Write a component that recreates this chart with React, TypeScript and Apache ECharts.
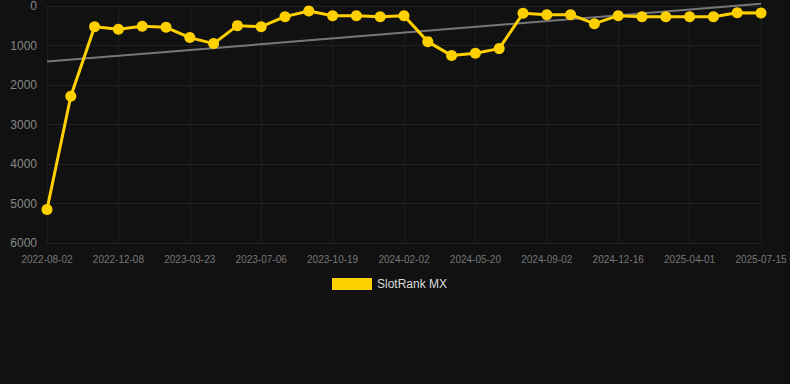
import React, { useEffect, useRef } from "react";
import * as echarts from "echarts";

const dates = [
  "2022-08-02", "2022-09-14", "2022-10-27", "2022-12-08", "2023-01-12", "2023-02-16",
  "2023-03-23", "2023-04-27", "2023-06-01", "2023-07-06", "2023-08-10", "2023-09-14",
  "2023-10-19", "2023-11-23", "2023-12-28", "2024-02-02", "2024-03-08", "2024-04-14",
  "2024-05-20", "2024-06-24", "2024-07-29", "2024-09-02", "2024-10-07", "2024-11-11",
  "2024-12-16", "2025-01-20", "2025-02-24", "2025-04-01", "2025-05-06", "2025-06-10",
  "2025-07-15",
];

const ranks = [
  5150, 2284, 523, 590, 515, 540, 800, 952, 497, 523, 270, 126,
  245, 245, 270, 245, 902, 1256, 1197, 1079, 186, 219, 219, 447,
  245, 270, 270, 270, 270, 169, 177,
];

const trendStart = 1408;
const trendEnd = -58;

export default function App() {
  const ref = useRef<HTMLDivElement>(null);
  useEffect(() => {
    document.body.style.margin = "0";
    document.body.style.background = "#111111";
    if (!ref.current) return;
    const chart = echarts.init(ref.current, undefined, { renderer: "svg" });
    const font = "Arial, 'Liberation Sans', sans-serif";
    chart.setOption({
      animation: false,
      backgroundColor: "#111111",
      grid: { left: 47, right: 29, top: 6, height: 237 },
      legend: {
        show: true,
        top: 278,
        left: 332,
        padding: 0,
        itemWidth: 40,
        itemHeight: 12,
        itemGap: 10,
        textStyle: { color: "#dddddd", fontSize: 12, fontFamily: font },
        data: [{ name: "SlotRank MX", icon: "rect" }],
      },
      xAxis: {
        type: "category",
        data: dates,
        boundaryGap: false,
        axisLine: { show: true, lineStyle: { color: "#222222" } },
        axisTick: { show: false },
        axisLabel: {
          interval: 2,
          color: "#777777",
          fontSize: 10,
          margin: 11,
          fontFamily: font,
        },
        splitLine: { show: true, interval: 2, lineStyle: { color: "#1e1e1e", width: 1 } },
      },
      yAxis: {
        type: "value",
        inverse: true,
        min: 0,
        max: 6000,
        interval: 1000,
        axisLine: { show: false },
        axisTick: { show: false },
        axisLabel: {
          color: "#888888",
          fontSize: 12,
          margin: 10,
          fontFamily: font,
          formatter: (v: number) => String(v),
        },
        splitLine: { show: true, lineStyle: { color: "#222222", width: 1 } },
      },
      series: [
        {
          name: "Trend",
          type: "line",
          data: [
            [dates[0], trendStart],
            [dates[dates.length - 1], trendEnd],
          ],
          symbol: "none",
          clip: false,
          lineStyle: { color: "#777777", width: 2 },
          itemStyle: { color: "#777777" },
          z: 1,
          silent: true,
        },
        {
          name: "SlotRank MX",
          type: "line",
          data: ranks,
          symbol: "circle",
          symbolSize: 11,
          lineStyle: { color: "#FFD000", width: 3 },
          itemStyle: { color: "#FFD000" },
          z: 2,
        },
      ],
    });
    return () => chart.dispose();
  }, []);
  return <div ref={ref} style={{ width: 790, height: 384 }} />;
}
